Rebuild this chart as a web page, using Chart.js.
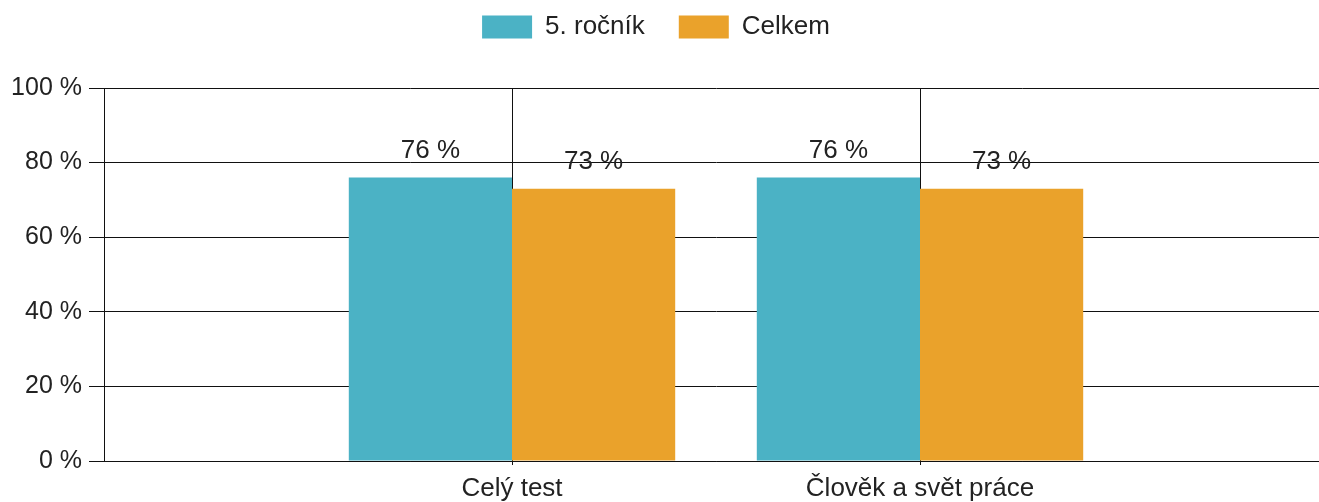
<!DOCTYPE html>
<html>
<head>
<meta charset="utf-8">
<script src="https://cdn.jsdelivr.net/npm/chart.js@4/dist/chart.umd.min.js"></script>
<style>
    html, body { margin: 0; padding: 0; background: #fff; overflow: hidden; }
    /* a bit wider than the window: the original plot runs past the right edge */
    #wrap { width: 1336px; height: 502px; }
</style>
</head>
<body>
<div id="wrap"><canvas id="scoreChart"></canvas></div>
<script>
// categories and values
const categories = ['Celý test', 'Člověk a svět práce'];
const seriesNames = ['5. ročník', 'Celkem'];
const grade5 = [76, 76];
const total = [73, 73];
const yTicks = [0, 20, 40, 60, 80, 100];

const colors = ['#4BB2C5', '#EAA22B'];
const textColor = '#222';
const lineColor = '#111';
const fontFamily = '"Liberation Sans", Arial, sans-serif';

// empty slots at both ends so the groups sit where the original has them
const labels = [''].concat(categories, ['']);
function pad(values) {
    return [null].concat(values, [null]);
}

// draws "76 %" over every bar
const valueLabels = {
    id: 'valueLabels',
    afterDatasetsDraw(chart) {
        const ctx = chart.ctx;
        ctx.save();
        ctx.font = '26px ' + fontFamily;
        ctx.fillStyle = textColor;
        ctx.textAlign = 'center';
        ctx.textBaseline = 'alphabetic';
        chart.data.datasets.forEach((dataset, i) => {
            const meta = chart.getDatasetMeta(i);
            meta.data.forEach((bar, j) => {
                const v = dataset.data[j];
                if (v === null) return;
                ctx.fillText(v + ' %', bar.x, bar.y - 20);
            });
        });
        ctx.restore();
    }
};

// legend: fixed height above the plot, and nudged into place
const legendPlace = {
    id: 'legendPlace',
    beforeInit(chart) {
        const fit = chart.legend.fit;
        chart.legend.fit = function () {
            fit.bind(chart.legend)();
            this.height = 88;
        };
    },
    beforeDraw(chart) {
        const lg = chart.legend;
        if (!lg._placed) {
            lg.top -= 20;
            lg.left -= 12;
            lg.right -= 12;
            lg._placed = true;
        }
    }
};

const data = {
    labels: labels,
    datasets: [
        {
            label: seriesNames[0],
            backgroundColor: colors[0],
            data: pad(grade5)
        },
        {
            label: seriesNames[1],
            backgroundColor: colors[1],
            data: pad(total)
        }
    ]
};

const config = {
    type: 'bar',
    data: data,
    options: {
        responsive: true,
        maintainAspectRatio: false,
        animation: false,
        layout: {
            padding: 0
        },
        datasets: {
            bar: {
                categoryPercentage: 0.8,
                barPercentage: 1.0
            }
        },
        plugins: {
            tooltip: { enabled: false },
            legend: {
                position: 'top',
                labels: {
                    boxWidth: 50,
                    boxHeight: 23,
                    padding: 34,
                    color: textColor,
                    font: { family: fontFamily, size: 26 }
                }
            }
        },
        scales: {
            x: {
                offset: false,
                grid: {
                    display: true,
                    offset: false,
                    color: lineColor,
                    lineWidth: 1,
                    tickLength: 4,
                    // no tick below the corner where the y axis sits
                    tickColor: c => c.index === 0 ? 'rgba(0,0,0,0)' : lineColor
                },
                border: { display: true, color: lineColor, width: 1 },
                ticks: {
                    color: textColor,
                    padding: 8,
                    maxRotation: 0,
                    autoSkip: false,
                    font: { family: fontFamily, size: 26 }
                },
                afterFit(scale) {
                    scale.height = 41;
                }
            },
            y: {
                min: 0,
                max: 100,
                grid: {
                    color: lineColor,
                    lineWidth: 1,
                    tickLength: 15
                },
                border: { display: true, color: lineColor, width: 1 },
                afterBuildTicks(scale) {
                    scale.ticks = yTicks.map(v => ({ value: v }));
                },
                ticks: {
                    color: textColor,
                    padding: 7,
                    font: { family: fontFamily, size: 25 },
                    callback: v => v + ' %'
                },
                afterFit(scale) {
                    scale.width = 104;
                }
            }
        }
    },
    plugins: [valueLabels, legendPlace]
};

const ctx = document.getElementById('scoreChart').getContext('2d');
const scoreChart = new Chart(ctx, config);
</script>
</body>
</html>
